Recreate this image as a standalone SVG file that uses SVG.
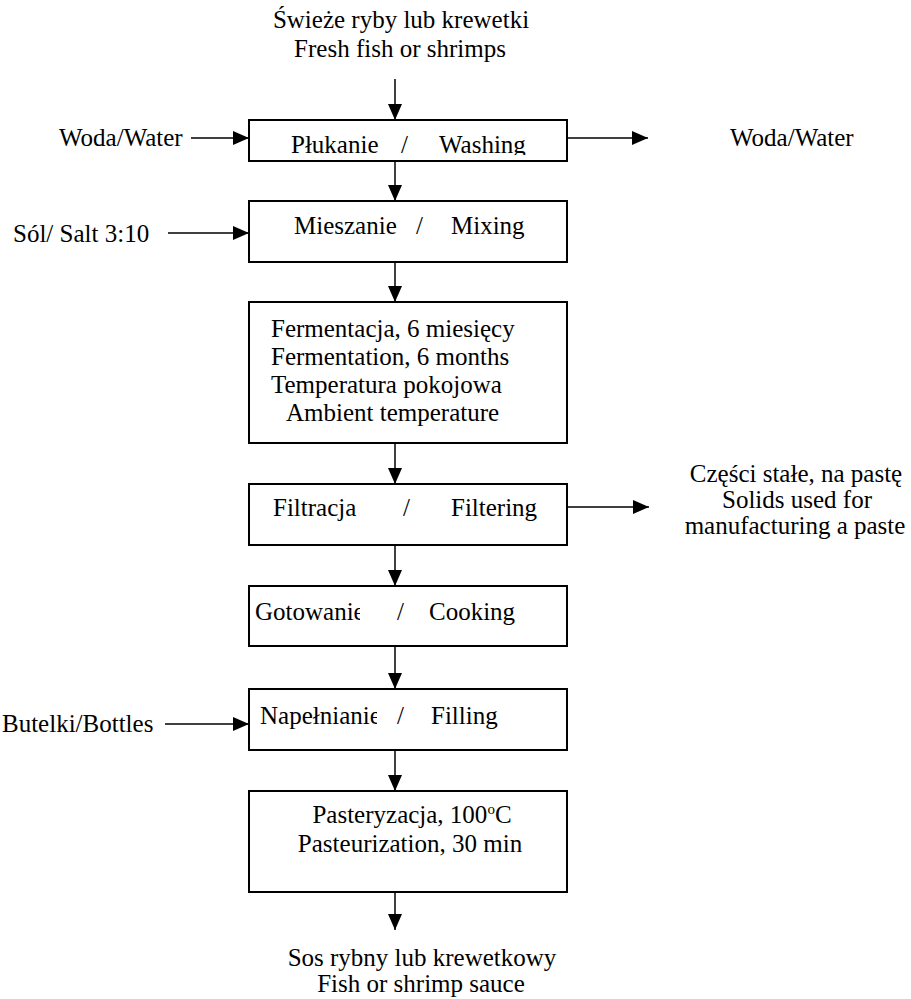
<svg xmlns="http://www.w3.org/2000/svg" width="911" height="999" viewBox="0 0 911 999">
<defs>
<marker id="ah" markerUnits="userSpaceOnUse" markerWidth="16" markerHeight="14" refX="16" refY="7" orient="auto">
<path d="M0,0 L16,7 L0,14 Z" fill="#000"/>
</marker>
<clipPath id="cw"><rect x="249" y="120" width="318" height="35"/></clipPath>
<clipPath id="cg"><rect x="249" y="586" width="111" height="60"/></clipPath>
<clipPath id="cn"><rect x="249" y="689" width="128" height="61"/></clipPath>
<style>
text{font-family:"Liberation Serif","Times New Roman",serif;font-size:25px;fill:#000}
.c{text-anchor:middle}
.box{fill:#fff;stroke:#000;stroke-width:2}
.ln{stroke:#000;stroke-width:1.5;fill:none;marker-end:url(#ah)}
</style>
</defs>
<rect width="911" height="999" fill="#fff"/>
<g id="connectors">
<line class="ln" x1="395" y1="79" x2="395" y2="120"/>
<line class="ln" x1="191" y1="138" x2="249" y2="138"/>
<line class="ln" x1="567" y1="138" x2="648" y2="138"/>
<line class="ln" x1="395" y1="161" x2="395" y2="201"/>
<line class="ln" x1="168" y1="233" x2="249" y2="233"/>
<line class="ln" x1="395" y1="262" x2="395" y2="302"/>
<line class="ln" x1="395" y1="443" x2="395" y2="484"/>
<line class="ln" x1="567" y1="507" x2="649" y2="507"/>
<line class="ln" x1="395" y1="545" x2="395" y2="586"/>
<line class="ln" x1="395" y1="646" x2="395" y2="689"/>
<line class="ln" x1="165" y1="724" x2="249" y2="724"/>
<line class="ln" x1="395" y1="750" x2="395" y2="791"/>
<line class="ln" x1="395" y1="892" x2="395" y2="930"/>
</g>
<g id="input">
<text class="c" x="401" y="28">Świeże ryby lub krewetki</text>
<text class="c" x="400" y="57">Fresh fish or shrimps</text>
</g>
<g id="water-in"><text x="59" y="146">Woda/Water</text></g>
<g id="water-out"><text x="730" y="146">Woda/Water</text></g>
<g id="washing">
<rect class="box" x="249" y="120" width="318" height="41"/>
<g clip-path="url(#cw)"><text x="291" y="153">Płukanie</text><text x="401" y="153">/</text><text x="439" y="153">Washing</text></g>
</g>
<g id="salt"><text x="13" y="242">Sól/ Salt 3:10</text></g>
<g id="mixing">
<rect class="box" x="249" y="201" width="318" height="61"/>
<text x="294" y="234">Mieszanie</text><text x="416" y="234">/</text><text x="451" y="234">Mixing</text>
</g>
<g id="fermentation">
<rect class="box" x="249" y="302" width="318" height="141"/>
<text x="271" y="337">Fermentacja, 6 miesięcy</text>
<text x="271" y="365">Fermentation, 6 months</text>
<text x="271" y="393">Temperatura pokojowa</text>
<text x="286" y="421">Ambient temperature</text>
</g>
<g id="filtering">
<rect class="box" x="249" y="484" width="318" height="61"/>
<text x="273" y="516">Filtracja</text><text x="403" y="516">/</text><text x="451" y="516">Filtering</text>
</g>
<g id="solids">
<text class="c" x="796" y="482">Części stałe, na pastę</text>
<text class="c" x="797" y="508">Solids used for</text>
<text class="c" x="795" y="534">manufacturing a paste</text>
</g>
<g id="cooking">
<rect class="box" x="249" y="586" width="318" height="60"/>
<g clip-path="url(#cg)"><text x="255" y="620">Gotowanie</text></g><text x="397" y="620">/</text><text x="429" y="620">Cooking</text>
</g>
<g id="bottles"><text x="2" y="732">Butelki/Bottles</text></g>
<g id="filling">
<rect class="box" x="249" y="689" width="318" height="61"/>
<g clip-path="url(#cn)"><text x="260" y="724">Napełnianie</text></g><text x="397" y="724">/</text><text x="431" y="724">Filling</text>
</g>
<g id="pasteurization">
<rect class="box" x="249" y="791" width="318" height="101"/>
<text class="c" x="412" y="823">Pasteryzacja,  100<tspan dy="-9" font-size="15">o</tspan><tspan dy="9">C</tspan></text>
<text class="c" x="410" y="852">Pasteurization, 30 min</text>
</g>
<g id="output">
<text class="c" x="422" y="966">Sos rybny lub krewetkowy</text>
<text class="c" x="421" y="992">Fish or shrimp sauce</text>
</g>
</svg>
